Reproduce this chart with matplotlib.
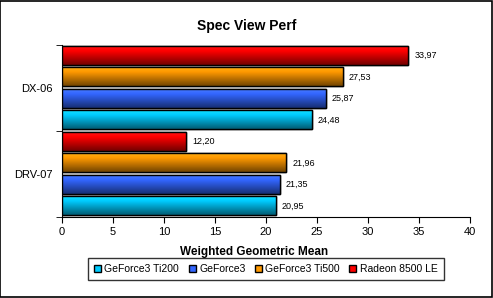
import numpy as np
import matplotlib.pyplot as plt
from matplotlib.colors import to_rgb, LinearSegmentedColormap
from matplotlib.patches import Rectangle

plt.rcParams['font.family'] = ['Liberation Sans', 'DejaVu Sans']

categories = ["DRV-07", "DX-06"]
series = ["GeForce3 Ti200", "GeForce3", "GeForce3 Ti500", "Radeon 8500 LE"]
values = {
    "GeForce3 Ti200": [20.95, 24.48],
    "GeForce3": [21.35, 25.87],
    "GeForce3 Ti500": [21.96, 27.53],
    "Radeon 8500 LE": [12.20, 33.97],
}
colors = ["#00CCFF", "#3366FF", "#FF9900", "#FF0000"]
offsets = [-0.37, -0.12, 0.13, 0.38]
bar_h = 0.22


def grad_cmap(c):
    r = np.array(to_rgb(c))
    light = np.minimum(r + 0.08, 1)
    dark = r * 0.45
    return LinearSegmentedColormap.from_list("g", [(0, dark), (0.75, r), (1, light)])


fig = plt.figure(figsize=(4.93, 2.98), dpi=100)
ax = fig.add_axes([0.1258, 0.2718, 0.8275, 0.5772])

y = np.arange(len(categories))
grad = np.linspace(0, 1, 64).reshape(-1, 1)
for name, col, off in zip(series, colors, offsets):
    bars = ax.barh(y + off, values[name], height=bar_h, color=col,
                   edgecolor="black", linewidth=1.0, zorder=3, label=name)
    for b, v in zip(bars, values[name]):
        x0, y0, w, h = b.get_x(), b.get_y(), b.get_width(), b.get_height()
        ax.imshow(grad, extent=(x0, x0 + w, y0, y0 + h), origin="lower",
                  cmap=grad_cmap(col), aspect="auto", zorder=3.5)
        ax.add_patch(Rectangle((x0, y0), w, h, fill=False, edgecolor="black",
                               linewidth=1.0, zorder=4))
        ax.text(v + 0.6, y0 + h / 2, f"{v:.2f}".replace(".", ","),
                va="center", ha="left", fontsize=6.5, zorder=5)

ax.set_xlim(0, 40)
ax.set_ylim(-0.5, 1.5)
ax.set_xticks(range(0, 41, 5))
ax.set_yticks(y)
ax.set_yticklabels(categories)
ax.set_yticks([-0.5, 0.5, 1.5], minor=True)
ax.tick_params(axis="y", which="major", length=0, labelsize=8, pad=7)
ax.tick_params(axis="y", which="minor", length=4, direction="out")
ax.tick_params(axis="x", length=4, direction="out", labelsize=8)
ax.spines["top"].set_visible(False)
ax.spines["right"].set_visible(False)
ax.set_xlabel("Weighted Geometric Mean", fontsize=8.5, fontweight="bold")
ax.xaxis.set_label_coords((254 - 62) / 408, -0.17)
fig.suptitle("Spec View Perf", fontsize=10, fontweight="bold", y=0.935)

leg = fig.legend(loc="center", bbox_to_anchor=(0.539, 0.097), ncol=4, fontsize=7.5,
                 frameon=True, fancybox=False, edgecolor="black",
                 handlelength=0.7, handleheight=0.7, handletextpad=0.3,
                 columnspacing=0.9, borderpad=0.6)
leg.get_frame().set_linewidth(1.0)

fig.patches.append(Rectangle((0.001, 0.002), 0.997, 0.995, transform=fig.transFigure,
                             fill=False, edgecolor="black", linewidth=1.2))

fig.savefig("out.png", dpi=100)
